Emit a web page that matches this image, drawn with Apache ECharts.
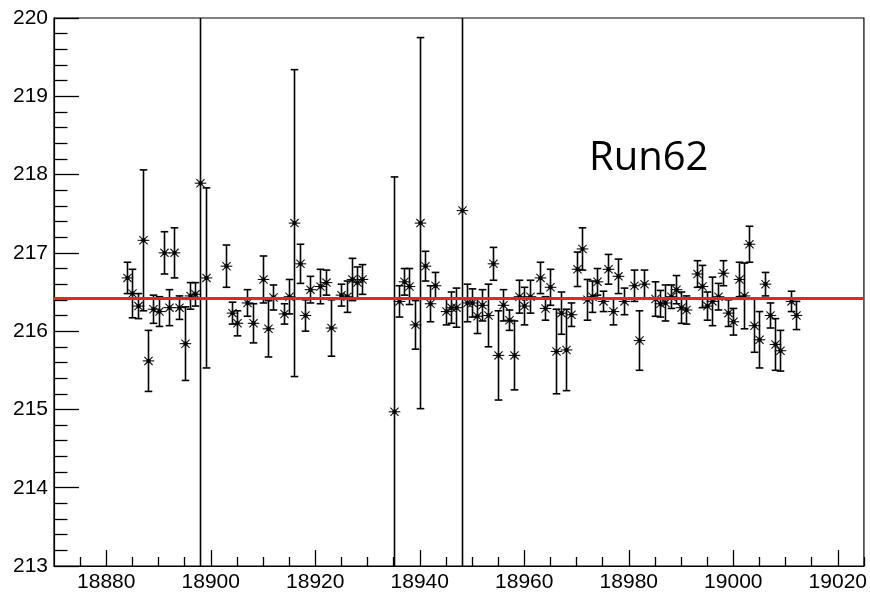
<!DOCTYPE html>
<html>
<head>
<meta charset="utf-8">
<script src="https://cdn.jsdelivr.net/npm/echarts@6/dist/echarts.min.js"></script>
<style>html,body{margin:0;padding:0;background:#fff}#c{width:870px;height:593px}</style>
</head>
<body>
<div id="c"></div>
<script>
// ---- data ----
const runs = [18884,18885,18886,18887,18888,18889,18890,18891,18892,18893,18894,18895,18896,18897,18898,18899,
  18903,18904,18905,18907,18908,18910,18911,18912,18914,18915,18916,18917,18918,18919,18921,18922,18923,18925,18926,18927,18928,18929,
  18935,18936,18937,18938,18939,18940,18941,18942,18943,18945,18946,18947,18948,18949,18950,18951,18952,18953,18954,18955,18956,18957,18958,18959,18960,18961,
  18963,18964,18965,18966,18967,18968,18969,18970,18971,18972,18973,18974,18975,18976,18977,18978,18979,18981,18982,18983,18985,18986,18987,18988,18989,18990,18991,
  18993,18994,18995,18996,18997,18998,18999,19000,19001,19002,19003,19004,19005,19006,19007,19008,19009,19011,19012];
const values = [216.68,216.48,216.32,217.16,215.62,216.28,216.25,217.00,216.30,217.00,216.30,215.84,216.45,216.47,217.89,216.68,
  216.83,216.23,216.10,216.36,216.10,216.66,216.03,216.43,216.22,216.44,217.38,216.86,216.20,216.53,216.57,216.62,216.04,216.46,216.44,216.66,216.62,216.66,
  214.97,216.38,216.63,216.57,216.08,217.38,216.83,216.35,216.58,216.25,216.30,216.30,217.54,216.36,216.36,216.19,216.33,216.20,216.86,215.69,216.33,216.14,215.69,216.44,216.32,216.44,
  216.68,216.29,216.56,215.74,216.23,215.76,216.21,216.79,217.05,216.40,216.44,216.63,216.38,216.79,216.25,216.70,216.38,216.58,215.88,216.60,216.41,216.35,216.36,216.44,216.53,216.30,216.27,
  216.73,216.57,216.32,216.38,216.44,216.74,216.23,216.12,216.66,216.45,217.11,216.07,215.89,216.60,216.20,215.83,215.75,216.38,216.20];
const errors = [0.20,0.31,0.16,0.90,0.39,0.18,0.19,0.27,0.23,0.32,0.15,0.47,0.17,0.15,6.00,1.15,
  0.27,0.14,0.16,0.17,0.25,0.30,0.36,0.16,0.13,0.22,1.96,0.25,0.20,0.17,0.22,0.16,0.36,0.14,0.20,0.27,0.20,0.19,
  3.00,0.20,0.17,0.23,0.31,2.37,0.19,0.23,0.17,0.17,0.20,0.25,6.00,0.24,0.18,0.22,0.20,0.40,0.21,0.57,0.20,0.13,0.44,0.21,0.24,0.21,
  0.20,0.15,0.23,0.54,0.27,0.52,0.15,0.22,0.27,0.26,0.20,0.17,0.13,0.19,0.17,0.22,0.17,0.20,0.38,0.18,0.22,0.17,0.23,0.15,0.18,0.20,0.18,
  0.17,0.27,0.18,0.31,0.17,0.16,0.17,0.17,0.22,0.42,0.23,0.34,0.36,0.15,0.16,0.33,0.26,0.13,0.18];
const fitValue = 216.42;
const xTickLabels = [18880, 18900, 18920, 18940, 18960, 18980, 19000, 19020];
const yTickLabels = [213, 214, 215, 216, 217, 218, 219, 220];
const title = 'Run62';

// ---- build chart ----
const xMinor = [];
for (let v = 18875; v <= 19025; v += 5) if (xTickLabels.indexOf(v) < 0) xMinor.push(v);

const seriesData = runs.map((r, i) => [r, values[i], errors[i]]);

function renderItem(params, api) {
  const x = api.value(0), y = api.value(1), e = api.value(2);
  const c = api.coord([x, y]);
  const t = api.coord([x, y + e]);
  const b = api.coord([x, y - e]);
  const cs = params.coordSys;
  const cx = Math.round(c[0]) + 0.5;
  const yTop = Math.max(t[1], cs.y);
  const yBot = Math.min(b[1], cs.y + cs.height);
  const st = { stroke: '#000', lineWidth: 1.6 };
  const ch = [{ type: 'line', shape: { x1: cx, y1: yTop, x2: cx, y2: yBot }, style: st }];
  const cw = 3.8;
  if (t[1] >= cs.y) ch.push({ type: 'line', shape: { x1: cx - cw, y1: t[1], x2: cx + cw, y2: t[1] }, style: st });
  if (b[1] <= cs.y + cs.height) ch.push({ type: 'line', shape: { x1: cx - cw, y1: b[1], x2: cx + cw, y2: b[1] }, style: st });
  const r = 5.8, d = r * 0.7071;
  const ms = { stroke: '#111', lineWidth: 1.1 };
  const cy = c[1];
  ch.push({ type: 'line', shape: { x1: cx - r, y1: cy, x2: cx + r, y2: cy }, style: ms });
  ch.push({ type: 'line', shape: { x1: cx, y1: cy - r, x2: cx, y2: cy + r }, style: ms });
  ch.push({ type: 'line', shape: { x1: cx - d, y1: cy - d, x2: cx + d, y2: cy + d }, style: ms });
  ch.push({ type: 'line', shape: { x1: cx - d, y1: cy + d, x2: cx + d, y2: cy - d }, style: ms });
  ch.push({ type: 'circle', shape: { cx: cx, cy: cy, r: 2.2 }, style: { fill: '#000' } });
  return { type: 'group', children: ch };
}

const chart = echarts.init(document.getElementById('c'), null, { renderer: 'canvas' });
const axisFont = { color: '#000', fontFamily: 'Liberation Sans, Arial, sans-serif', fontSize: 21 };
chart.setOption({
  animation: false,
  backgroundColor: '#fff',
  grid: { left: 54, top: 18, right: 6, bottom: 26, show: true, borderColor: '#000', borderWidth: 1.2, backgroundColor: 'transparent' },
  xAxis: [
    {
      type: 'value', min: 18870, max: 19025, position: 'bottom',
      axisLine: { show: true, onZero: false, lineStyle: { color: '#000', width: 1.2 } },
      axisTick: { show: true, inside: true, length: 16, customValues: xTickLabels, lineStyle: { color: '#000', width: 1.3 } },
      axisLabel: { show: true, customValues: xTickLabels, margin: 6, ...axisFont, formatter: v => String(v) },
      splitLine: { show: false }
    },
    {
      type: 'value', min: 18870, max: 19025, position: 'bottom', offset: 0,
      axisLine: { show: false },
      axisTick: { show: true, inside: true, length: 9, customValues: xMinor, lineStyle: { color: '#000', width: 1.3 } },
      axisLabel: { show: false },
      splitLine: { show: false }
    }
  ],
  yAxis: {
    type: 'value', min: yTickLabels[0], max: yTickLabels[yTickLabels.length - 1], interval: 1,
    axisLine: { show: true, onZero: false, lineStyle: { color: '#000', width: 1.2 } },
    axisTick: { show: true, inside: true, length: 25, lineStyle: { color: '#000', width: 1.3 } },
    minorTick: { show: true, splitNumber: 5, length: 13.5, lineStyle: { color: '#000', width: 1.3 } },
    axisLabel: { margin: 6, ...axisFont },
    splitLine: { show: false }
  },
  graphic: [{
    type: 'text', left: 589, top: 139,
    style: { text: title, fill: '#000', font: '40px "Open Sans", "Noto Sans", sans-serif' }
  }],
  series: [
    {
      type: 'custom', xAxisIndex: 0, yAxisIndex: 0, renderItem: renderItem,
      data: seriesData, silent: true, z: 2
    },
    {
      type: 'line', xAxisIndex: 0, yAxisIndex: 0, data: [], z: 5, silent: true,
      markLine: {
        silent: true, symbol: ['none', 'none'], label: { show: false },
        lineStyle: { color: '#e8261e', width: 3, type: 'solid' },
        emphasis: { disabled: true },
        data: [{ yAxis: fitValue }]
      }
    }
  ]
});
</script>
</body>
</html>
